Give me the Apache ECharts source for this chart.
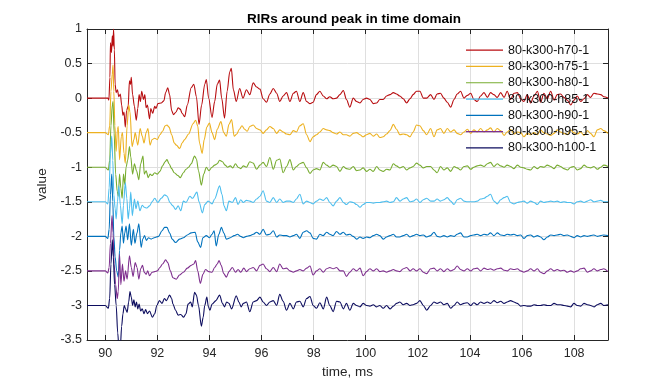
<!DOCTYPE html>
<html><head><meta charset="utf-8">
<script src="https://cdn.jsdelivr.net/npm/echarts@6/dist/echarts.min.js"></script>
<style>html,body{margin:0;padding:0;background:#fff}#c{width:672px;height:384px}</style>
</head><body><div id="c"></div>
<script>
const names = ['80-k300-h70-1','80-k300-h75-1','80-k300-h80-1','80-k300-h85-1','80-k300-h90-1','80-k300-h95-1','80-k300-h100-1'];
const colors = ['#b80d10','#edb120','#77ac30','#4dbeee','#0072bd','#7e2f8e','#0c0c5e'];
const offsets = [0,-0.5,-1,-1.5,-2,-2.5,-3];
const xTicks = [90,92,94,96,98,100,102,104,106,108];

// early part (onset region): [time ms, deviation from the series' baseline]
const h70Early = [[89.3,0],[90.0,0],[90.1,0],[90.14,-0.03],[90.18,0.3],[90.2,0.8],[90.24,0.66],[90.27,0.9],[90.3,0.75],[90.32,1.0],[90.35,0.7],[90.38,0.2],[90.42,0.08],[90.47,0.12],[90.52,0.02],[90.58,0.06],[90.63,-0.1],[90.68,-0.25],[90.72,-0.2],[90.77,-0.42],[90.82,-0.18],[90.88,-0.12],[90.93,0.25],[90.97,0.2],[91.0,0.3],[91.05,0.05],[91.12,-0.12],[91.19,-0.32],[91.25,-0.15],[91.3,0.05],[91.35,-0.05],[91.4,0.1],[91.47,-0.02],[91.52,0.05],[91.57,-0.14],[91.62,-0.1],[91.7,-0.3],[91.75,-0.15],[91.82,-0.22],[91.9,-0.12],[91.95,-0.15],[92.02,-0.08],[92.15,-0.07],[92.25,-0.04],[92.32,0.08],[92.4,0.15],[92.47,0.05],[92.55,-0.18],[92.62,-0.24],[92.72,-0.2],[92.8,-0.14],[92.88,-0.16],[92.95,-0.22],[93.05,-0.27],[93.15,-0.1],[93.3,0.15],[93.4,0.2],[93.5,0.02],[93.6,-0.38],[93.7,-0.1],[93.82,0.2],[93.88,0.27],[93.97,0.0],[94.1,-0.28],[94.2,-0.05],[94.3,0.2],[94.39,0.26],[94.47,0.0],[94.58,-0.29],[94.68,0.1],[94.78,0.38],[94.84,0.43],[94.92,0.12],[95.03,-0.05],[95.16,0.14],[95.29,0.0],[95.42,0.12]];
const h75Early = [[89.3,0],[90.0,0],[90.12,-0.03],[90.17,0.1],[90.22,0.6],[90.27,0.85],[90.3,0.98],[90.33,0.6],[90.37,0.1],[90.42,-0.27],[90.47,0.05],[90.5,0.09],[90.55,-0.39],[90.62,-0.05],[90.66,0.0],[90.72,-0.3],[90.77,-0.44],[90.84,0.1],[90.9,0.4],[90.95,0.3],[91.03,-0.2],[91.1,-0.1],[91.15,0.0],[91.25,-0.18],[91.34,0.06],[91.42,-0.05],[91.49,-0.15],[91.57,0.0],[91.64,0.06],[91.72,-0.18],[91.8,-0.1],[91.9,-0.08],[92.0,-0.1],[92.1,-0.03],[92.2,0.02],[92.3,0.1],[92.37,0.11],[92.45,0.08],[92.55,-0.03],[92.65,-0.15],[92.73,-0.18],[92.86,-0.23],[92.95,-0.15],[93.05,-0.1],[93.2,-0.02],[93.37,0.13],[93.47,0.18],[93.55,0.1],[93.62,-0.15],[93.72,-0.3],[93.8,-0.1],[93.9,0.08],[94.0,0.14],[94.1,0.0],[94.2,-0.1],[94.3,0.05],[94.44,0.16],[94.55,0.0],[94.65,-0.05],[94.75,0.12],[94.85,0.19],[94.95,-0.05],[95.05,-0.02],[95.15,0.05],[95.25,0.1],[95.35,0.05],[95.45,0.02]];
const h80Early = [[89.3,0],[90.0,0],[90.12,-0.04],[90.17,0.1],[90.22,0.6],[90.27,0.9],[90.3,0.95],[90.34,0.5],[90.4,-0.1],[90.46,-0.35],[90.5,-0.42],[90.55,-0.1],[90.6,-0.3],[90.65,-0.45],[90.7,-0.1],[90.75,-0.25],[90.8,0.0],[90.86,0.1],[90.93,0.3],[90.98,0.15],[91.05,-0.1],[91.12,0.05],[91.2,-0.05],[91.29,-0.18],[91.36,0.05],[91.45,0.16],[91.5,-0.1],[91.57,-0.05],[91.65,-0.15],[91.72,-0.1],[91.8,-0.12],[91.9,-0.08],[92.0,-0.1],[92.1,-0.06],[92.2,0.02],[92.3,0.08],[92.37,0.11],[92.45,0.05],[92.55,-0.02],[92.65,-0.08],[92.79,-0.12],[92.88,-0.15],[93.0,-0.08],[93.1,-0.03],[93.2,0.0],[93.3,0.05],[93.43,0.16],[93.5,0.12],[93.58,-0.05],[93.69,-0.26],[93.78,-0.1],[93.88,0.0],[93.98,-0.05],[94.1,0.0],[94.2,0.03],[94.3,0.05],[94.39,0.1],[94.5,0.08],[94.6,0.03],[94.7,0.0],[94.8,0.02],[94.9,-0.01],[95.0,0.05],[95.1,0.0],[95.2,-0.02],[95.3,0.02],[95.42,0.0]];
const h85Early = [[89.3,0],[90.0,0],[90.1,-0.03],[90.15,0.2],[90.2,0.7],[90.25,0.95],[90.29,0.6],[90.33,0.1],[90.38,-0.1],[90.42,-0.25],[90.47,0.0],[90.52,0.23],[90.58,-0.05],[90.65,-0.32],[90.7,-0.05],[90.77,0.28],[90.83,0.05],[90.88,-0.25],[90.93,-0.1],[90.98,0.14],[91.04,-0.2],[91.12,0.04],[91.18,-0.1],[91.25,0.01],[91.33,-0.13],[91.42,-0.05],[91.5,-0.08],[91.6,-0.09],[91.7,-0.06],[91.8,0.0],[91.9,0.05],[92.02,-0.01],[92.15,0.05],[92.28,0.1],[92.38,0.08],[92.48,-0.01],[92.6,-0.06],[92.7,-0.11],[92.8,-0.06],[92.9,-0.13],[93.0,0.01],[93.1,-0.01],[93.25,0.08],[93.35,0.05],[93.52,0.14],[93.6,0.0],[93.73,-0.16],[93.82,-0.04],[93.95,0.01],[94.1,-0.03],[94.2,0.04],[94.39,0.23],[94.48,0.11],[94.56,-0.06],[94.65,-0.13],[94.75,0.01],[94.88,-0.01],[95.0,0.06],[95.1,-0.04],[95.2,0.03],[95.3,-0.01],[95.42,0.02]];
const h90Early = [[89.3,0],[90.0,0],[90.1,-0.03],[90.15,0.1],[90.2,0.6],[90.25,0.9],[90.29,0.5],[90.33,0.0],[90.38,-0.3],[90.44,-0.5],[90.5,-0.59],[90.55,-0.2],[90.6,0.05],[90.65,0.15],[90.7,-0.1],[90.75,0.05],[90.8,0.15],[90.86,-0.05],[90.93,0.18],[91.0,-0.13],[91.08,0.1],[91.14,-0.1],[91.22,0.05],[91.29,0.18],[91.38,-0.16],[91.44,-0.04],[91.51,0.01],[91.58,-0.06],[91.66,-0.02],[91.76,-0.04],[91.88,-0.02],[92.05,0.0],[92.18,0.08],[92.28,0.13],[92.37,0.13],[92.47,0.05],[92.57,-0.04],[92.7,-0.09],[92.85,-0.04],[93.0,-0.02],[93.15,0.02],[93.3,0.05],[93.45,0.06],[93.55,-0.08],[93.66,-0.16],[93.75,-0.02],[93.88,0.01],[94.0,-0.02],[94.1,0.03],[94.18,0.08],[94.26,-0.14],[94.36,0.03],[94.46,0.13],[94.55,0.05],[94.65,-0.04],[94.8,-0.02],[94.95,0.01],[95.08,0.03],[95.2,0.0],[95.3,-0.02],[95.42,0.0]];
const h95Early = [[89.3,0],[90.0,0],[90.1,-0.03],[90.15,0.05],[90.2,0.4],[90.26,0.8],[90.3,0.55],[90.34,0.1],[90.4,-0.2],[90.46,-0.4],[90.5,-0.3],[90.55,0.24],[90.6,-0.2],[90.66,0.1],[90.72,-0.15],[90.78,0.0],[90.84,-0.12],[90.93,0.22],[91.0,0.05],[91.07,-0.08],[91.15,0.12],[91.22,0.05],[91.29,-0.12],[91.36,0.03],[91.43,0.08],[91.5,-0.02],[91.57,-0.05],[91.63,0.0],[91.7,-0.07],[91.8,-0.02],[91.9,-0.01],[92.0,0.0],[92.1,0.05],[92.2,0.1],[92.32,0.16],[92.4,0.12],[92.5,0.0],[92.6,-0.1],[92.73,-0.12],[92.85,-0.06],[93.0,-0.02],[93.15,0.04],[93.3,0.08],[93.4,0.1],[93.47,0.15],[93.55,0.0],[93.65,-0.18],[93.75,-0.05],[93.85,0.02],[93.98,-0.01],[94.1,-0.02],[94.2,0.05],[94.3,0.1],[94.37,0.15],[94.45,0.08],[94.55,-0.04],[94.65,-0.09],[94.75,-0.01],[94.88,0.05],[95.0,-0.02],[95.1,0.02],[95.2,-0.02],[95.32,0.04],[95.42,-0.01]];
const h100Early = [[89.3,0],[90.0,0],[90.12,-0.04],[90.17,0.1],[90.22,0.6],[90.27,0.95],[90.31,0.7],[90.36,0.3],[90.42,0.0],[90.48,-0.4],[90.53,-0.65],[90.58,-0.6],[90.63,-0.3],[90.68,-0.12],[90.73,0.0],[90.78,-0.05],[90.84,-0.1],[90.9,0.05],[90.95,0.2],[91.0,0.12],[91.05,0.0],[91.1,0.08],[91.15,-0.02],[91.2,0.05],[91.25,-0.05],[91.3,0.02],[91.36,-0.08],[91.42,-0.05],[91.49,-0.12],[91.55,-0.06],[91.62,-0.12],[91.7,-0.08],[91.81,-0.17],[91.9,-0.12],[91.98,0.0],[92.08,0.07],[92.18,0.03],[92.27,0.1],[92.35,0.07],[92.47,0.15],[92.55,0.1],[92.6,0.02],[92.7,-0.07],[92.8,-0.14],[92.9,-0.13],[93.01,-0.17],[93.1,-0.12],[93.18,0.02],[93.28,0.05],[93.34,-0.02],[93.43,0.19],[93.5,0.15],[93.58,0.0],[93.69,-0.3],[93.76,-0.17],[93.82,0.0],[93.9,0.12],[93.96,-0.02],[94.02,-0.07],[94.1,0.02],[94.25,0.07],[94.39,0.15],[94.5,0.03],[94.58,-0.02],[94.66,0.05],[94.75,0.03],[94.85,-0.05],[95.03,0.14],[95.13,0.05],[95.22,-0.02],[95.3,0.03],[95.42,0.05]];

// tail part: shared sample times (ms) and per-series deviations
const tailTime = [95.55,95.68,95.81,95.94,96.06,96.19,96.32,96.45,96.58,96.70,96.83,96.96,97.09,97.22,97.34,97.47,97.60,97.73,97.86,97.98,98.11,98.24,98.37,98.50,98.62,98.75,98.88,99.01,99.14,99.26,99.39,99.52,99.65,99.78,99.90,100.03,100.16,100.29,100.42,100.54,100.67,100.80,100.93,101.06,101.18,101.31,101.44,101.57,101.70,101.82,101.95,102.08,102.21,102.34,
102.49,102.62,102.74,102.87,103.00,103.13,103.26,103.39,103.51,103.64,103.77,103.90,104.03,104.15,104.28,104.41,104.54,104.67,104.79,104.92,105.05,105.18,105.31,105.43,105.56,105.69,105.82,105.95,106.07,106.20,106.33,106.46,106.59,106.71,106.84,106.97,107.10,107.23,107.35,107.48,107.61,107.74,107.87,107.99,108.12,108.25,108.38,108.51,108.63,108.76,108.89,109.02,109.14,109.30];
const h70Tail = [0.05,0.22,0.16,0.13,-0.01,-0.06,0.06,0.14,0.07,-0.05,0.03,0.08,-0.05,0.07,0.1,-0.05,0.08,-0.05,-0.08,-0.06,0.05,0.1,0.03,-0.01,0.02,-0.01,0,0.05,0.11,-0.02,-0.13,0,-0.05,-0.07,-0.02,0,-0.02,-0.08,-0.07,-0.02,-0.02,0.03,0.05,0.08,0.06,0.03,-0.01,-0.07,-0.01,0.05,0.1,0.1,0,0,
0.05,-0.02,0.06,0.07,0,-0.06,-0.13,-0.02,0.06,0.1,0,0.04,0.07,-0.02,-0.05,0.03,0.08,0.01,0.08,0.05,0.01,0.08,0.01,0.1,-0.02,0.07,0.08,-0.01,-0.05,0.05,-0.07,0.03,0.1,-0.06,0.07,-0.01,0.1,-0.03,0.05,0.06,0.01,-0.03,-0.1,-0.03,0.03,-0.05,-0.01,0.05,0.01,0.07,0.06,0.05,0.02,0];
const h75Tail = [0.09,0.11,0.06,0.04,-0.01,0.04,0.09,0.06,-0.01,0.04,0.01,-0.02,-0.03,0.03,0.01,0.1,0.13,-0.03,-0.13,-0.06,-0.03,0.01,0.06,0.04,0.03,0,-0.02,0.01,-0.03,-0.03,-0.05,-0.01,0,-0.03,-0.06,-0.03,-0.01,-0.05,-0.02,-0.07,-0.06,-0.02,0.03,0.12,0.05,-0.03,-0.02,-0.03,-0.06,0.01,0.11,0.1,0.03,-0.03,
0.06,-0.06,0.04,0.06,-0.01,0.06,0.01,0.04,-0.01,-0.03,0.01,0.05,-0.01,0.04,0.01,0.06,0.01,0.04,0.07,0.01,0.06,0.03,-0.04,0.01,0.05,-0.02,0.01,0,-0.06,-0.01,-0.03,0,-0.03,0.04,0,-0.02,-0.04,-0.01,0.04,0.01,-0.01,-0.03,0.04,0,-0.02,0.01,-0.04,0.03,-0.01,-0.06,0.04,0.06,0.03,-0.01];
const h80Tail = [0.08,0.06,-0.03,0.03,0.07,0.01,0.14,-0.03,0.1,0.12,-0.08,0.01,0.11,-0.04,0.01,0.05,0.07,-0.01,-0.09,-0.04,-0.02,-0.04,0.07,0.03,0,0.03,0.01,-0.06,0.01,-0.02,-0.03,0.01,-0.05,-0.04,-0.01,-0.06,-0.03,-0.06,0.01,-0.04,-0.06,-0.03,-0.04,0.05,0.02,-0.01,0.01,-0.04,-0.01,0.01,0.06,0.03,-0.01,0.01,
0.01,-0.04,-0.08,0.01,-0.04,-0.01,-0.06,0.01,-0.01,-0.04,0.01,0.02,-0.03,0,0.02,0.03,0.01,0.05,0.07,0.01,0.05,0.02,0,0.03,0.01,-0.02,0.03,0,-0.01,-0.03,-0.04,0.01,-0.02,0.01,0,0.03,0.01,-0.02,0.03,0.01,-0.02,-0.04,0,0.01,-0.04,-0.02,0.03,0,-0.01,0.01,-0.03,0,0.03,0.01];
const h85Tail = [0.01,-0.01,0.04,0.08,0.16,0.01,-0.01,0.06,-0.01,0.04,-0.01,0.01,0.01,-0.01,0.04,0.11,-0.03,0.01,-0.01,-0.03,0.01,0.04,0.02,0.06,-0.01,-0.06,0.01,0.06,-0.01,-0.04,0,-0.01,-0.04,-0.08,-0.04,-0.01,-0.01,-0.02,-0.01,-0.01,0,0.01,-0.01,0,0.06,0.01,0.04,0.06,0,0.01,0.04,-0.01,0.03,0.05,
0.01,0.01,0.04,0.01,0.03,0.06,0.01,-0.04,0.03,0.05,0.01,0,0,0,0.01,0.04,0.05,0.08,0.11,0.01,-0.03,0.03,0.06,0.08,-0.01,-0.03,-0.01,0,0.01,-0.02,0.01,-0.01,-0.04,0.01,-0.01,0,0.01,0,0.01,-0.01,0,-0.01,-0.01,-0.03,0,0.01,-0.01,0.01,0.03,0,0.01,0.02,0,0];
const h90Tail = [0.01,0.03,0.06,0.03,0.1,0.02,0.03,0.08,-0.01,0.02,0.01,0.01,-0.01,0.01,0.03,-0.03,0.06,0.08,0.05,-0.03,-0.04,0.03,0.01,0.06,0.03,0.01,0.07,0.03,0.06,0.02,0.03,0,-0.04,-0.01,-0.03,-0.01,-0.02,0.01,0.03,0.01,-0.04,-0.01,0.01,0.03,-0.01,-0.01,0.01,0.03,-0.01,0.01,0.03,0.01,0.02,-0.01,
0.01,0.06,0,-0.01,0.01,-0.01,0.01,0,0.03,0.05,-0.01,-0.01,0.01,0.02,0.03,0.01,0.03,0.02,0.05,0.01,0.05,0.02,0.01,0.03,0.02,0.03,0.01,0.02,-0.03,0.01,0.02,-0.01,0.01,-0.01,-0.05,-0.01,0.02,0.01,0.02,0.03,0.01,0.02,0,-0.02,0.01,-0.01,0.01,0,0.01,0.02,0,0.01,0.02,0.01];
const h95Tail = [0.03,0.05,0,0.08,0.1,0.03,-0.01,0.05,-0.01,0.1,0.03,0.04,0,-0.02,0,0.02,0,0.04,0.07,-0.06,0,0.03,-0.02,0.03,0.05,0.03,0.05,0,0,-0.08,-0.02,0.03,0,0.04,-0.07,-0.01,0.03,0,0.03,-0.01,0,-0.02,0,0.02,0,-0.01,0.03,0.05,0,0.03,0,0.03,-0.02,-0.04,
0.03,0.04,0,0.03,-0.01,0.03,0,0.02,0.07,0.02,0,0.03,0,0.03,0.04,0,0.04,0.02,0.03,0.01,0.03,0.04,0.01,0,0.03,0.02,0.03,0,-0.02,0,0.03,0,0.03,-0.02,-0.04,0,0.03,0,0.02,0,0.01,-0.02,0,-0.02,0,0.03,0.04,-0.02,0,0.03,0,0.02,0.03,-0.01];
const h100Tail = [-0.09,0.05,0.07,0.12,0.05,0,0.05,0.07,0,0.16,0.06,-0.07,0.03,-0.05,0.05,0.06,-0.02,0.1,0.13,0,-0.04,0.04,-0.05,0.12,0,-0.09,0.06,0.05,-0.05,0.03,-0.07,0.03,0,-0.02,0.03,0,-0.01,0.01,-0.02,0,-0.04,0,-0.05,-0.01,0.03,0.05,0.01,0.03,0,0.01,0.03,0.07,0,-0.07,
0,0.05,0.03,0.05,0.01,0.03,-0.04,0,0.05,0.01,0.03,0.04,0,0.04,0.01,0.05,0.03,0.05,0.03,0.07,0.04,0.06,0.03,0.05,0.07,0.05,0.03,-0.01,0,-0.01,-0.01,0.01,0,0,0.01,0,0,0.03,0.01,0.01,0,-0.01,-0.02,0.03,0,-0.01,0.03,0.01,0,-0.02,0.01,0.03,0,0.01];

const earlies = [h70Early,h75Early,h80Early,h85Early,h90Early,h95Early,h100Early];
const tails = [h70Tail,h75Tail,h80Tail,h85Tail,h90Tail,h95Tail,h100Tail];

function build(k){
  const off = offsets[k];
  const out = earlies[k].map(p => [p[0], +(p[1] + off).toFixed(3)]);
  const n = Math.min(tailTime.length, tails[k].length);
  for (let i = 0; i < n; i++) out.push([tailTime[i], +(tails[k][i] + off).toFixed(3)]);
  return out;
}

const F = "'Liberation Sans', Arial, Helvetica, sans-serif";
const AX = '#262626';
const chart = echarts.init(document.getElementById('c'), null, {renderer:'canvas'});
chart.setOption({
  animation:false,
  backgroundColor:'#fff',
  title:{text:'RIRs around peak in time domain', left:349, top:7, textAlign:'center',
    textStyle:{fontSize:13.5, fontWeight:'bold', color:'#000', fontFamily:F}},
  grid:{left:87, top:29, width:521, height:313, containLabel:false},
  legend:{orient:'vertical', left:466, top:42, padding:0, icon:'rect', itemWidth:37, itemHeight:1.2, itemGap:0,
    textStyle:{fontSize:12.5, color:'#111', fontFamily:F, lineHeight:16.3}, data:names},
  xAxis:[{type:'value', min:89.3, max:109.3, position:'bottom',
      axisLine:{show:true, onZero:false, lineStyle:{color:AX, width:1}},
      axisTick:{show:true, inside:true, length:5, customValues:xTicks, lineStyle:{color:AX}},
      axisLabel:{customValues:xTicks, color:AX, fontSize:12.5, margin:7, fontFamily:F},
      splitLine:{show:true, lineStyle:{color:'#dfdfdf', width:1}},
      name:'time, ms', nameLocation:'middle', nameGap:25,
      nameTextStyle:{fontSize:13.5, color:AX, fontFamily:F}},
    {type:'value', min:89.3, max:109.3, position:'top',
      axisLine:{show:true, onZero:false, lineStyle:{color:AX, width:1}},
      axisTick:{show:true, inside:true, length:5, customValues:xTicks, lineStyle:{color:AX}},
      axisLabel:{show:false}, splitLine:{show:false}}],
  yAxis:[{type:'value', min:-3.5, max:1, interval:0.5, position:'left',
      axisLine:{show:true, onZero:false, lineStyle:{color:AX, width:1}},
      axisTick:{show:true, inside:true, length:5, lineStyle:{color:AX}},
      axisLabel:{color:AX, fontSize:12.5, margin:5, fontFamily:F},
      splitLine:{show:true, lineStyle:{color:'#dfdfdf', width:1}},
      name:'value', nameLocation:'middle', nameGap:32, nameRotate:90,
      nameTextStyle:{fontSize:13.5, color:AX, fontFamily:F}},
    {type:'value', min:-3.5, max:1, interval:0.5, position:'right',
      axisLine:{show:true, onZero:false, lineStyle:{color:AX, width:1}},
      axisTick:{show:true, inside:true, length:5, lineStyle:{color:AX}},
      axisLabel:{show:false}, splitLine:{show:false}}],
  series: names.map((nm,k) => ({
    name:nm, type:'line', xAxisIndex:0, yAxisIndex:0, data:build(k),
    color:colors[k], showSymbol:false, symbol:'none', smooth:0.3, smoothMonotone:'x',
    lineStyle:{width:1.1, color:colors[k]}, clip:true, z:2+k
  }))
});
</script></body></html>
